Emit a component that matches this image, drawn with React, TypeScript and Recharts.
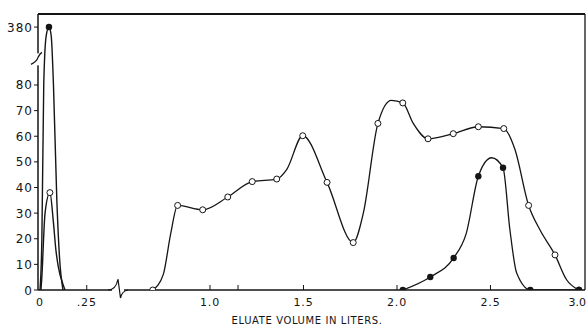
import React from "react";
import { LineChart, Line, XAxis, YAxis, ReferenceDot, ReferenceLine } from "recharts";

// volumes in liters
const tallX = [0, 0.01, 0.02, 0.033, 0.048, 0.06, 0.072, 0.09, 0.105, 0.123];
const tallY = [0, 20, 80, 300, 380, 300, 80, 35, 12, 0];
const tallDots = [4];

const smallX = [0.005, 0.009, 0.027, 0.053, 0.071, 0.085, 0.098, 0.124, 0.134];
const smallY = [0, 4, 30, 38, 27, 15.6, 9, 2, 0];
const smallDots = [3];

const openX = [0.694, 0.75, 0.79, 0.827, 0.961, 1.095, 1.226, 1.357, 1.41, 1.496, 1.626, 1.766, 1.82, 1.898, 1.97, 2.031, 2.087, 2.166, 2.301, 2.435, 2.571, 2.63, 2.704, 2.765, 2.845, 2.907, 2.973];
const openY = [0, 6, 22, 33, 31.3, 36.3, 42.3, 43.3, 47, 60.2, 42, 18.5, 30, 65, 74, 73, 65, 59, 61, 63.7, 63, 55, 33, 23.4, 13.7, 4, 0];
const openDots = [0, 3, 4, 5, 6, 7, 9, 10, 11, 13, 15, 17, 18, 19, 20, 22, 24, 26];

const filledX = [2.031, 2.178, 2.303, 2.37, 2.435, 2.506, 2.567, 2.604, 2.64, 2.713, 2.973];
const filledY = [0, 5.1, 12.5, 22, 44.4, 51.6, 47.7, 23.4, 6.6, 0, 0];
const filledDots = [0, 1, 2, 4, 6, 9, 10];

const xTicks = [0, 0.25, 1.0, 1.15, 1.5, 2.0, 2.5, 3.0];
const xLabels = ["0", ".25", "1.0", "", "1.5", "2.0", "2.5", "3.0"];
const yTicks = [0, 10, 20, 30, 40, 50, 60, 70, 80, 380];

// broken axes: a slice of volume and of height is cut out of the scale
const X_SHIFT = 0.091;
const toU = (v: number) => (v > 0.45 ? v - X_SHIFT : v);
const toYU = (y: number) => (y <= 90 ? y : 90 + ((y - 90) * 12.6) / 290);
const fromYU = (u: number) => (u <= 90 ? u : Math.round(90 + ((u - 90) * 290) / 12.6));

const series = (xs: number[], ys: number[], dots: number[]) =>
  xs.map((x, i) => ({ u: toU(x), y: toYU(ys[i]), mark: dots.includes(i) }));

const ink = "#151515";
const font = "DejaVu Sans, sans-serif";

const openDot = (p: any) =>
  p.payload.mark ? (
    <circle key={p.index} cx={p.cx} cy={p.cy} r={3} fill="#fff" stroke={ink} strokeWidth={1} />
  ) : (
    <g key={p.index} />
  );
const filledDot = (p: any) =>
  p.payload.mark ? <circle key={p.index} cx={p.cx} cy={p.cy} r={3.2} fill={ink} /> : <g key={p.index} />;

const XTick = (p: any) => {
  const i = xTicks.map(toU).findIndex((t) => Math.abs(t - p.payload.value) < 1e-6);
  const last = i === xTicks.length - 1;
  return (
    <g>
      {i > 0 && !last && <line x1={p.x} x2={p.x} y1={p.y} y2={p.y - 5} stroke={ink} strokeWidth={1} />}
      <text
        x={last ? 586 : p.x}
        y={p.y + 16}
        textAnchor={last ? "end" : "middle"}
        fontSize={11}
        fontFamily={font}
        letterSpacing={last ? 0 : 0.8}
        fill={ink}
      >
        {xLabels[i]}
      </text>
    </g>
  );
};

const YTick = (p: any) => (
  <g>
    <line x1={p.x - 4} x2={p.x} y1={p.y} y2={p.y} stroke={ink} strokeWidth={1} />
    <text x={p.x - 5} y={p.y + 4.5} textAnchor="end" fontSize={12} fontFamily={font} letterSpacing={1} fill={ink}>
      {fromYU(p.payload.value)}
    </text>
  </g>
);

const xBreak = (p: any) => (
  <g>
    <rect x={p.cx - 6} y={p.cy - 2} width={12} height={4} fill="#fff" />
    <path
      d={`M${p.cx - 10},${p.cy} Q${p.cx - 2},${p.cy} ${p.cx},${p.cy - 11} L${p.cx + 2.5},${p.cy + 8} Q${p.cx + 4},${p.cy + 1} ${p.cx + 10},${p.cy}`}
      fill="none"
      stroke={ink}
      strokeWidth={1.2}
    />
  </g>
);

const yBreak = (p: any) => (
  <g>
    <rect x={p.cx - 2} y={p.cy - 6} width={4} height={12} fill="#fff" />
    <path
      d={`M${p.cx - 7},${p.cy + 5} Q${p.cx - 1},${p.cy + 2} ${p.cx},${p.cy - 2} Q${p.cx + 2},${p.cy - 6} ${p.cx + 4},${p.cy - 7}`}
      fill="none"
      stroke={ink}
      strokeWidth={1.2}
    />
  </g>
);

const xDomain = [-0.0107, 2.9144];
const yDomain = [0, 107.7];

export default function App() {
  return (
    <div style={{ position: "absolute", left: 0, top: 0, background: "#fff" }}>
      <LineChart width={587} height={329} margin={{ top: 14, right: 2, bottom: 0, left: 0 }}>
        <XAxis
          dataKey="u"
          type="number"
          domain={xDomain}
          ticks={xTicks.map(toU)}
          allowDataOverflow
          height={39}
          tickSize={0}
          tickMargin={0}
          tickLine={false}
          axisLine={{ stroke: ink, strokeWidth: 1.3 }}
          tick={<XTick />}
          interval={0}
          label={{
            content: () => (
              <text x={307} y={324} textAnchor="middle" fontSize={10} fontFamily={font} letterSpacing={0.6} fill={ink}>
                ELUATE VOLUME IN LITERS.
              </text>
            ),
          }}
        />
        <YAxis
          type="number"
          domain={yDomain}
          ticks={yTicks.map(toYU)}
          allowDataOverflow
          width={38}
          tickSize={0}
          tickMargin={0}
          tickLine={false}
          axisLine={{ stroke: ink, strokeWidth: 1.5 }}
          tick={<YTick />}
          interval={0}
        />
        {/* frame: top and right edges */}
        <ReferenceLine y={yDomain[1]} stroke={ink} strokeWidth={2} ifOverflow="visible" />
        <ReferenceLine x={xDomain[1]} stroke={ink} strokeWidth={1.3} ifOverflow="visible" />
        <Line data={series(smallX, smallY, smallDots)} dataKey="y" type="monotone" stroke={ink} strokeWidth={1.4} dot={openDot} activeDot={false} isAnimationActive={false} />
        <Line data={series(tallX, tallY, tallDots)} dataKey="y" type="monotone" stroke={ink} strokeWidth={1.4} dot={filledDot} activeDot={false} isAnimationActive={false} />
        <Line data={series(openX, openY, openDots)} dataKey="y" type="monotone" stroke={ink} strokeWidth={1.3} dot={openDot} activeDot={false} isAnimationActive={false} />
        <Line data={series(filledX, filledY, filledDots)} dataKey="y" type="monotone" stroke={ink} strokeWidth={1.3} dot={filledDot} activeDot={false} isAnimationActive={false} />
        <ReferenceDot x={0.417} y={0} ifOverflow="visible" shape={xBreak} />
        <ReferenceDot x={xDomain[0]} y={90} ifOverflow="visible" shape={yBreak} />
      </LineChart>
    </div>
  );
}
